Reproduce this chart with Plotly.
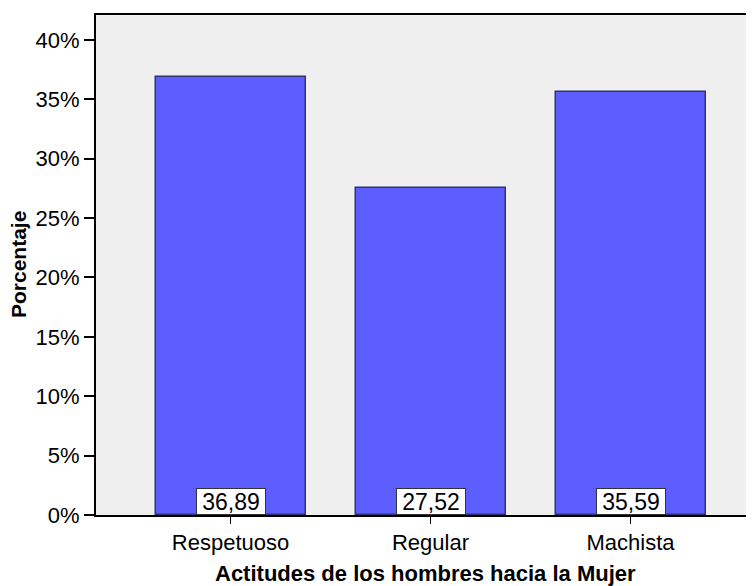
import plotly.graph_objects as go

categories = ["Respetuoso", "Regular", "Machista"]
values = [36.89, 27.52, 35.59]
y_ticks = [0, 5, 10, 15, 20, 25, 30, 35, 40]

FONT = "Liberation Sans, Arial, sans-serif"

fig = go.Figure()
fig.add_trace(go.Bar(
    x=list(range(len(categories))),
    y=values,
    width=0.75,
    marker=dict(color="#5c5eff", line=dict(color="#33336e", width=1.5)),
    hoverinfo="skip",
))

for i, v in enumerate(values):
    fig.add_annotation(
        x=i, y=0, xref="x", yref="y",
        text=f"{v:.2f}".replace(".", ","),
        showarrow=False, yanchor="bottom", xanchor="center",
        bgcolor="white", bordercolor="#333333", borderwidth=1,
        width=66, height=23, borderpad=1,
        font=dict(family=FONT, size=23, color="black"),
    )

# axis titles
fig.add_annotation(
    x=-0.1185, y=0.5, xref="paper", yref="paper",
    text="<b>Porcentaje</b>", textangle=-90, showarrow=False,
    xanchor="center", yanchor="middle",
    font=dict(family=FONT, size=21, color="black"),
)
fig.add_annotation(
    x=0.5, y=-0.118, xref="paper", yref="paper",
    text="<b>Actitudes de los hombres hacia la Mujer</b>", showarrow=False,
    xanchor="center", yanchor="middle",
    font=dict(family=FONT, size=22, color="black"),
)

fig.update_layout(
    width=746, height=578,
    margin=dict(l=88, r=0, t=7, b=71),
    paper_bgcolor="white",
    plot_bgcolor="#efefef",
    showlegend=False,
    bargap=0,
    font=dict(family=FONT, size=22, color="black"),
)
fig.update_xaxes(
    range=[-0.6725, 2.6175],
    tickvals=list(range(len(categories))),
    ticktext=categories,
    ticks="outside", ticklen=7, tickwidth=1, tickcolor="black",
    showline=True, linecolor="black", linewidth=2, mirror=True,
    showgrid=False, zeroline=False,
    tickfont=dict(family=FONT, size=22, color="black"),
)
fig.update_yaxes(
    range=[0, 42.1],
    tickvals=y_ticks,
    ticktext=[f"{t}%" for t in y_ticks],
    ticks="outside", ticklen=10, tickwidth=2, tickcolor="black",
    showline=True, linecolor="black", linewidth=2,
    showgrid=False, zeroline=False,
    tickfont=dict(family=FONT, size=22, color="black"),
)

fig.write_html("out.html")
